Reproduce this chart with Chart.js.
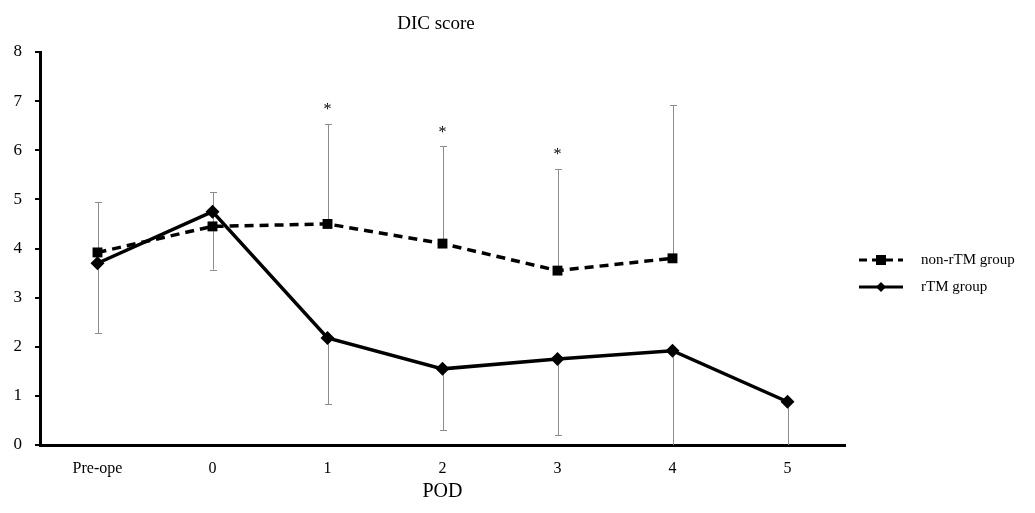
<!DOCTYPE html>
<html>
<head>
<meta charset="utf-8">
<script src="https://cdn.jsdelivr.net/npm/chart.js@4"></script>
<style>
  body { margin: 0; background: #fff; }
</style>
</head>
<body>
<canvas id="chart" width="1035" height="513"></canvas>
<script>
// categories (post-operative day)
const labels = ['Pre-ope', '0', '1', '2', '3', '4', '5'];

// mean DIC scores
const nonRtm = [3.92, 4.45, 4.5, 4.1, 3.55, 3.8, null];
const rtm = [3.7, 4.75, 2.18, 1.55, 1.75, 1.92, 0.88];

// error bar ends: upper for non-rTM, lower for rTM
const nonRtmUpper = [4.95, 5.15, 6.53, 6.08, 5.62, 6.92, null];
const rtmLower = [2.28, 3.57, 0.83, 0.3, 0.2, 0, 0];

// significance marks
const starred = [false, false, true, true, true, false, false];

const serif = "'Liberation Serif', 'Times New Roman', serif";

const errorBars = {
    id: 'errorBars',
    beforeDatasetsDraw(chart) {
        const { ctx, scales: { x, y } } = chart;
        ctx.save();
        ctx.strokeStyle = '#8c8c8c';
        ctx.lineWidth = 1;
        const cap = 3.5;
        const drawBar = (i, from, to, withCap) => {
            const px = Math.round(x.getPixelForValue(i)) + 0.5;
            const y1 = y.getPixelForValue(from);
            const y2 = y.getPixelForValue(to);
            ctx.beginPath();
            ctx.moveTo(px, y1);
            ctx.lineTo(px, y2);
            if (withCap) {
                ctx.moveTo(px - cap, Math.round(y2) + 0.5);
                ctx.lineTo(px + cap, Math.round(y2) + 0.5);
            }
            ctx.stroke();
        };
        labels.forEach((_, i) => {
            if (nonRtmUpper[i] != null) drawBar(i, nonRtm[i], nonRtmUpper[i], true);
            if (rtmLower[i] != null) drawBar(i, rtm[i], rtmLower[i], rtmLower[i] > 0);
        });
        ctx.restore();
    },
    afterDatasetsDraw(chart) {
        const { ctx, scales: { x, y } } = chart;
        ctx.save();
        ctx.fillStyle = '#000';
        ctx.font = '16px ' + serif;
        ctx.textAlign = 'center';
        ctx.textBaseline = 'bottom';
        labels.forEach((_, i) => {
            if (!starred[i]) return;
            ctx.fillText('*', x.getPixelForValue(i), y.getPixelForValue(nonRtmUpper[i]) - 6);
        });
        ctx.restore();
    }
};

// title and legend drawn by hand so they sit where the original has them
const decorations = {
    id: 'decorations',
    afterDraw(chart) {
        const { ctx } = chart;
        ctx.save();
        ctx.fillStyle = '#000';
        ctx.font = '19px ' + serif;
        ctx.textAlign = 'center';
        ctx.textBaseline = 'middle';
        ctx.fillText('DIC score', 436, 24);

        ctx.font = '15px ' + serif;
        ctx.textAlign = 'left';
        const rows = [
            { text: 'non-rTM group', y: 260, dash: [8, 5], style: 'rect' },
            { text: 'rTM group', y: 287, dash: [], style: 'diamond' }
        ];
        rows.forEach(r => {
            ctx.strokeStyle = '#000';
            ctx.lineWidth = 3;
            ctx.setLineDash(r.dash);
            ctx.beginPath();
            ctx.moveTo(859, r.y);
            ctx.lineTo(903, r.y);
            ctx.stroke();
            ctx.setLineDash([]);
            ctx.beginPath();
            if (r.style === 'rect') {
                ctx.rect(876, r.y - 5, 10, 10);
            } else {
                ctx.moveTo(881, r.y - 5);
                ctx.lineTo(886, r.y);
                ctx.lineTo(881, r.y + 5);
                ctx.lineTo(876, r.y);
                ctx.closePath();
            }
            ctx.fill();
            ctx.fillText(r.text, 921, r.y);
        });
        ctx.restore();
    }
};

new Chart(document.getElementById('chart'), {
    type: 'line',
    data: {
        labels: labels,
        datasets: [
            {
                label: 'non-rTM group',
                data: nonRtm,
                borderColor: '#000',
                backgroundColor: '#000',
                borderWidth: 3.5,
                borderDash: [9, 6],
                pointStyle: 'rect',
                pointRadius: 7,
                pointBorderWidth: 0,
                tension: 0,
                spanGaps: false
            },
            {
                label: 'rTM group',
                data: rtm,
                borderColor: '#000',
                backgroundColor: '#000',
                borderWidth: 3.5,
                pointStyle: 'rectRot',
                pointRadius: 7,
                pointBorderWidth: 0,
                tension: 0
            }
        ]
    },
    options: {
        responsive: false,
        animation: false,
        layout: { padding: { top: 52, right: 190, bottom: 8, left: 0 } },
        plugins: {
            legend: { display: false },
            title: { display: false },
            tooltip: { enabled: false }
        },
        scales: {
            x: {
                offset: true,
                grid: { display: false, offset: true },
                border: { color: '#000', width: 3 },
                ticks: { color: '#000', font: { family: serif, size: 16 }, padding: 6, maxRotation: 0 },
                title: { display: true, text: 'POD', color: '#000', font: { family: serif, size: 20 }, padding: { top: 2, bottom: 1 } },
                afterFit(scale) { scale.height = 60; }
            },
            y: {
                min: 0,
                max: 8,
                grid: { drawOnChartArea: false, drawTicks: true, tickLength: 5, color: '#000', lineWidth: 2 },
                border: { color: '#000', width: 3 },
                ticks: { stepSize: 1, color: '#000', font: { family: serif, size: 17 }, padding: 13 },
                afterFit(scale) { scale.width = 40; }
            }
        }
    },
    plugins: [errorBars, decorations]
});
</script>
</body>
</html>
